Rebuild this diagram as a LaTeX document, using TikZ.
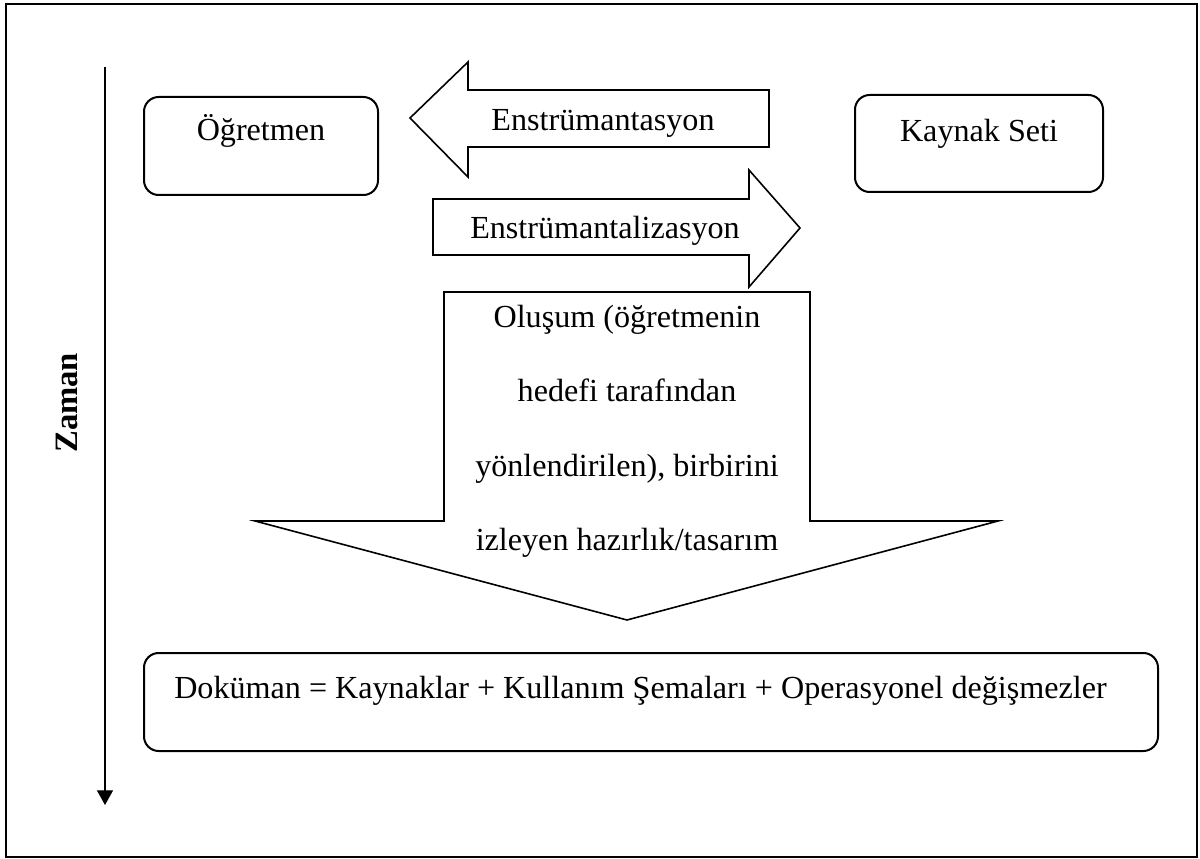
\documentclass[tikz,border=0pt]{standalone}
\usepackage{fontspec}
\setmainfont{Liberation Serif}
\usetikzlibrary{arrows.meta}

\begin{document}
\begin{tikzpicture}[x=0.75pt,y=-0.75pt,
  box/.style={draw,line width=1.5pt,rounded corners=11pt,inner sep=0pt},
  blockarrow/.style={draw,line width=1.2pt,line join=miter},
  lbl/.style={font=\fontsize{24.1}{28}\selectfont,inner sep=0pt},
  axis/.style={line width=0.9pt,-{Triangle[width=12pt,length=11pt]}}]
\useasboundingbox (0,0) rectangle (1200,859);
% frame
\draw[line width=1.5pt] (6,4) rectangle (1197,857);

% time axis
\coordinate (tstart) at (105,67);
\coordinate (tend) at (105,805);
\draw[axis] (tstart) -- (tend);
\node[font=\bfseries\fontsize{24.5}{28}\selectfont, rotate=90, anchor=base west, inner sep=0pt] (zaman) at (77,453) {Zaman};

% actors
\node[box, minimum width=175.5pt, minimum height=73.5pt] (ogretmen) at (261,146) {};
\node[lbl, anchor=base] (ogretmen-t) at (261,141) {Öğretmen};
\node[box, minimum width=186pt, minimum height=72.75pt] (kaynak) at (979,143.5) {};
\node[lbl, anchor=base] (kaynak-t) at (979,142) {Kaynak Seti};

% instrumentation (leftwards block arrow)
\draw[blockarrow] (769,90) -- (468,90) -- (468,62) -- (410,118) -- (468,177) -- (468,147) -- (769,147) -- cycle;
\node[lbl, anchor=base] (instr) at (603,131) {Enstrümantasyon};

% instrumentalization (rightwards block arrow)
\draw[blockarrow] (433,199) -- (749,199) -- (749,170) -- (800,228) -- (749,287) -- (749,255) -- (433,255) -- cycle;
\node[lbl, anchor=base] (instzn) at (605,239) {Enstrümantalizasyon};

% genesis (downwards block arrow)
\draw[blockarrow] (444,292) -- (810,292) -- (810,521) -- (998,521) -- (627,620) -- (255,521) -- (444,521) -- cycle;
\node[lbl, anchor=base] (gen1) at (627,328) {Oluşum (öğretmenin};
\node[lbl, anchor=base] (gen2) at (627,402) {hedefi tarafından};
\node[lbl, anchor=base] (gen3) at (627,476) {yönlendirilen), birbirini};
\node[lbl, anchor=base] (gen4) at (627,550) {izleyen hazırlık/tasarım};

% document
\node[box, minimum width=760.5pt, minimum height=73.5pt] (dokuman) at (651,702) {};
\node[lbl, anchor=base west] (dokuman-t) at (174,698) {Doküman = Kaynaklar + Kullanım Şemaları + Operasyonel değişmezler};
\end{tikzpicture}
\end{document}
